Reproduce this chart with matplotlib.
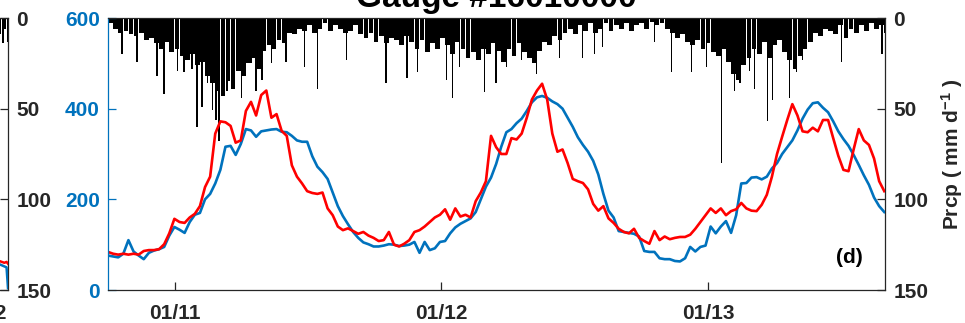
import numpy as np
import pandas as pd
import matplotlib
matplotlib.use('Agg')
import matplotlib.pyplot as plt

plt.rcParams['font.family'] = ['Liberation Sans', 'DejaVu Sans']
plt.rcParams['font.weight'] = 'bold'
plt.rcParams['mathtext.fontset'] = 'custom'
plt.rcParams['mathtext.rm'] = 'Liberation Sans:bold'
plt.rcParams['mathtext.bf'] = 'Liberation Sans:bold'
plt.rcParams['mathtext.it'] = 'Liberation Sans:bold'

# panel (d), weekly values
start, end = '2010-10-01', '2013-08-31'
weeks = pd.date_range(start, periods=153, freq='7D')
flow_blue = [76, 74, 72, 80, 110, 85, 76, 68, 82, 87,
             90, 95, 120, 139, 133, 126, 150, 166, 170, 200,
             212, 235, 265, 316, 318, 298, 322, 355, 352, 338,
             350, 352, 354, 355, 349, 348, 340, 330, 327, 327,
             295, 272, 260, 245, 215, 185, 163, 145, 128, 115,
             105, 101, 96, 96, 98, 101, 100, 97, 98, 100,
             106, 82, 106, 88, 92, 106, 108, 125, 138, 146,
             152, 158, 172, 200, 228, 248, 278, 316, 348, 355,
             368, 378, 395, 414, 425, 428, 424, 416, 410, 400,
             380, 360, 337, 320, 305, 285, 255, 212, 175, 160,
             130, 128, 126, 124, 118, 86, 84, 84, 70, 68,
             68, 64, 63, 70, 95, 85, 95, 98, 140, 125,
             140, 152, 126, 165, 235, 236, 248, 249, 244, 250,
             268, 280, 300, 315, 330, 352, 378, 398, 412, 414,
             402, 392, 372, 350, 333, 318, 298, 276, 253, 232,
             204, 185, 172]
flow_red = [84, 80, 78, 80, 78, 80, 78, 86, 88, 88,
            90, 101, 125, 157, 150, 148, 160, 168, 185, 227,
            250, 345, 372, 370, 362, 325, 330, 395, 415, 385,
            430, 440, 380, 388, 351, 340, 275, 250, 235, 218,
            214, 212, 215, 180, 165, 140, 132, 136, 130, 124,
            128, 120, 115, 108, 110, 128, 100, 96, 102, 110,
            128, 132, 140, 150, 160, 166, 178, 155, 180, 162,
            166, 160, 196, 215, 240, 340, 315, 300, 300, 335,
            332, 345, 380, 420, 440, 455, 420, 345, 305, 310,
            280, 245, 240, 236, 222, 190, 175, 185, 158, 148,
            135, 128, 125, 135, 115, 108, 102, 130, 110, 118,
            112, 115, 117, 117, 122, 135, 150, 165, 180, 170,
            180, 165, 174, 178, 192, 180, 175, 174, 188, 210,
            250, 300, 338, 375, 410, 385, 350, 348, 358, 350,
            375, 375, 335, 296, 265, 262, 310, 355, 330, 320,
            290, 240, 218]
prcp_week = [3, 6, 8, 7, 9, 10, 8, 12, 11, 14,
             17, 13, 19, 17, 21, 23, 20, 26, 24, 32,
             36, 40, 43, 35, 39, 29, 32, 25, 22, 28,
             18, 15, 17, 12, 14, 8, 9, 6, 7, 4,
             8, 6, 3, 7, 4, 6, 8, 7, 4, 9,
             11, 8, 13, 10, 14, 11, 12, 15, 10, 13,
             17, 12, 19, 14, 17, 11, 15, 20, 13, 17,
             22, 19, 23, 17, 20, 14, 18, 24, 17, 21,
             14, 19, 22, 25, 18, 13, 15, 10, 12, 8,
             6, 9, 4, 7, 3, 8, 6, 3, 7, 4,
             6, 3, 7, 4, 3, 6, 2, 4, 3, 6,
             8, 11, 9, 13, 15, 12, 17, 14, 19, 21,
             17, 24, 31, 34, 26, 22, 17, 20, 13, 22,
             15, 12, 19, 23, 28, 21, 17, 13, 8, 10,
             6, 7, 9, 4, 11, 6, 8, 4, 7, 3,
             6, 4, 8]
# single wet days (days after start, mm/d)
spike_day = [19, 40, 67, 77, 95, 104, 115, 122, 129, 136, 143, 148, 152, 156, 163,
             183, 196, 203, 211, 224, 244, 269, 287, 327, 381, 410, 424, 464, 472,
             482, 516, 532, 546, 567, 587, 619, 650, 667, 678, 749, 772, 800, 820,
             841, 859, 866, 879, 886, 904, 911, 934, 944, 952, 1005, 1061]
spike_mm = [20, 24, 32, 42, 29, 30, 28, 60, 49, 36, 51, 56, 68, 41, 40,
            44, 25, 40, 34, 25, 24, 27, 39, 23, 36, 33, 30, 34, 44,
            27, 41, 36, 27, 23, 31, 22, 22, 20, 16, 13, 30, 30, 27,
            80, 40, 36, 29, 39, 57, 45, 44, 30, 23, 24, 20]
tick_dates = ['2011-01-01', '2012-01-01', '2013-01-01']
tick_labels = ['01/11', '01/12', '01/13']

# neighbouring panel, only its right edge is in view
nb_start, nb_end = '2009-03-10', '2012-02-08'
nb_dates = pd.to_datetime(['2012-01-20', '2012-01-27', '2012-02-03', '2012-02-06', '2012-02-08'])
nb_blue = [60, 57, 52, 50, 4]
nb_red = [66, 64, 60, 62, 58]
nb_prcp_dates = pd.to_datetime(['2012-01-25', '2012-01-29', '2012-02-01', '2012-02-04', '2012-02-07'])
nb_prcp = [5, 9, 14, 6, 13]

BLUE, RED, DARK = '#0072BD', '#FF0000', '#262626'
W, H = 965, 323

fig = plt.figure(figsize=(9.65, 3.23), dpi=100)

def style(ax, ax2, xs, xe):
    ax.set_zorder(ax2.get_zorder() + 1)
    ax.patch.set_visible(False)
    ax.set_xlim(pd.Timestamp(xs), pd.Timestamp(xe))
    ax.set_ylim(0, 600)
    ax2.set_ylim(150, 0)
    ax.set_yticks([0, 200, 400, 600])
    ax2.set_yticks([0, 50, 100, 150])
    ax.spines['left'].set_color(BLUE)
    ax.spines['right'].set_visible(False)
    for s in ['top', 'bottom']:
        ax.spines[s].set_color(DARK)
        ax2.spines[s].set_visible(False)
    ax2.spines['left'].set_visible(False)
    ax2.spines['right'].set_color(DARK)
    for sp in list(ax.spines.values()) + list(ax2.spines.values()):
        sp.set_linewidth(0.9)
    ax.tick_params(axis='y', direction='in', length=6, width=0.9, colors=BLUE, labelsize=15, pad=6)
    ax.tick_params(axis='x', direction='in', length=6, width=0.9, colors=DARK, labelsize=15, pad=10)
    ax2.tick_params(axis='y', direction='in', length=6, width=0.9, colors=DARK, labelsize=15, pad=6)

# neighbour
axn = fig.add_axes([(8 - 777) / W, 33 / H, 777 / W, 272 / H])
axn2 = axn.twinx()
axn2.bar(nb_prcp_dates, nb_prcp, width=2, color='k', linewidth=0)
axn.plot(nb_dates, nb_blue, color=BLUE, lw=1.8)
axn.plot(nb_dates, nb_red, color=RED, lw=1.8)
style(axn, axn2, nb_start, nb_end)
axn.tick_params(axis='y', labelleft=False)  # its left axis is outside the picture
axn.set_xticks([pd.Timestamp('2012-01-01')])
axn.set_xticklabels(['01/12'])

# main panel
ax = fig.add_axes([108 / W, 33 / H, 777 / W, 272 / H])
ax2 = ax.twinx()
ax2.bar(weeks + pd.Timedelta(days=3.5), prcp_week, width=6.5, color='k', linewidth=0)
spike_dates = pd.Timestamp(start) + pd.to_timedelta(spike_day, unit='D')
ax2.bar(spike_dates, spike_mm, width=1.9, color='k', linewidth=0)
ax.plot(weeks, flow_blue, color=BLUE, lw=1.9)
ax.plot(weeks, flow_red, color=RED, lw=1.9)
style(ax, ax2, start, end)
ax.set_xticks(pd.to_datetime(tick_dates))
ax.set_xticklabels(tick_labels)
ax2.set_ylabel(r'Prcp ( mm d$^{-1}$ )', fontsize=15, fontweight='bold', color=DARK, labelpad=8)
ax.text(0.954, 0.121, '(d)', transform=ax.transAxes, ha='center', va='center',
        fontsize=15, fontweight='bold', color='k')

fig.text(496.5 / W, 1 - 7 / H, 'Gauge #16010000', ha='center', va='baseline',
         fontsize=24, fontweight='bold', color='k')

fig.savefig('out.png', dpi=100)
